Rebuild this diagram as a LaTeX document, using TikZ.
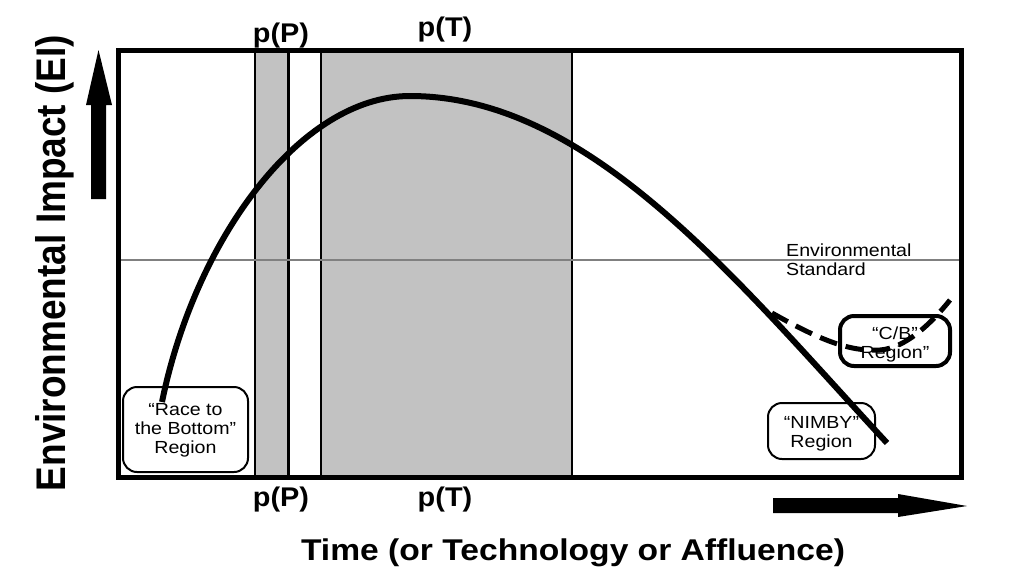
\documentclass[tikz,border=0pt]{standalone}
\usepackage{fontspec}
\setmainfont{Liberation Sans}
\usepackage{graphicx}
\newcommand{\sxs}[1]{\scalebox{1.12}[1]{#1}}
\begin{document}
\begin{tikzpicture}[x=1pt,y=-1pt,
  biglabel/.style={font=\bfseries\fontsize{30}{36}\selectfont, inner sep=0},
  plabel/.style={font=\bfseries\fontsize{27}{32}\selectfont, inner sep=0},
  smalltext/.style={font=\fontsize{17.5}{19}\selectfont, inner sep=0},
  regionbox/.style={draw, line width=2, rounded corners=14, inner sep=0},
  bandline/.style={line width=2},
  curveline/.style={line width=6, line join=round},
  dashline/.style={line width=5, dash pattern=on 18pt off 9pt},
  arrowfill/.style={fill=black}
]
\useasboundingbox (0,0) rectangle (1024,587);
\definecolor{bandgray}{gray}{0.76}
% grey bands
\fill[bandgray] (255,50) rectangle (288,477);
\fill[bandgray] (321,50) rectangle (572,477);
\draw[bandline, line width=1.5] (255,50) -- (255,477);
\draw[bandline, line width=3] (288,50) -- (288,477);
\draw[bandline, line width=2.5] (321,50) -- (321,477);
\draw[bandline] (572,50) -- (572,477);
% environmental standard line
\draw[gray, line width=1.3] (118,260) -- (961,260);
% frame
\draw[line width=5] (118,50) rectangle (961,477);
% region boxes
\node[regionbox, minimum width=125, minimum height=85] (race) at (185.5,429.5) {};
\node[regionbox, minimum width=107, minimum height=56] (nimby) at (821.5,431) {};
\node[regionbox, line width=4, minimum width=110, minimum height=50] (cb) at (895,341) {};
\node[smalltext] (racet) at (185.5,431) {\sxs{\begin{tabular}{@{}c@{}}“Race to\\the Bottom”\\Region\end{tabular}}};
\node[smalltext] (nimbyt) at (821.5,434) {\sxs{\begin{tabular}{@{}c@{}}“NIMBY”\\Region\end{tabular}}};
\node[smalltext] (cbt) at (895,345) {\sxs{\begin{tabular}{@{}c@{}}“C/B”\\Region”\end{tabular}}};
\node[smalltext, anchor=west] (std) at (786,262) {\sxs{\begin{tabular}{@{}l@{}}Environmental\\Standard\end{tabular}}};
% curves
\coordinate (cstart) at (162,402);
\coordinate (peak) at (410,96);
\coordinate (cend) at (887,443);
\coordinate (split) at (772,313);
\coordinate (cbend) at (950,300);
\draw[curveline] (cstart) .. controls (195,240) and (300,96) .. (peak)
                          .. controls (590,96) and (737,281) .. (cend);
\draw[dashline] (split) .. controls (820,340) and (850,352) .. (880,350) .. controls (905,348) and (930,325) .. (cbend);
% arrows
\fill[arrowfill] (91,199) -- (91,105) -- (86,105) -- (98.5,50) -- (112,105) -- (106,105) -- (106,199) -- cycle;
\fill[arrowfill] (773,498) -- (898,498) -- (898,494) -- (967,506) -- (898,517) -- (898,513) -- (773,513) -- cycle;
% labels
\node[plabel] (ppt) at (281,36) {\scalebox{1.07}[1]{p(P)}};
\node[plabel] (ptt) at (445,30) {\scalebox{1.07}[1]{p(T)}};
\node[plabel] (ppb) at (281,500) {\scalebox{1.07}[1]{p(P)}};
\node[plabel] (ptb) at (445,500) {\scalebox{1.07}[1]{p(T)}};
\node[biglabel] (xlab) at (573,553) {\scalebox{1.12}[1]{Time (or Technology or Affluence)}};
\node[biglabel, font=\bfseries\fontsize{37}{41}\selectfont, rotate=90] (ylab) at (55,263) {\scalebox{1}[1.12]{Environmental Impact (EI)}};
\end{tikzpicture}
\end{document}
